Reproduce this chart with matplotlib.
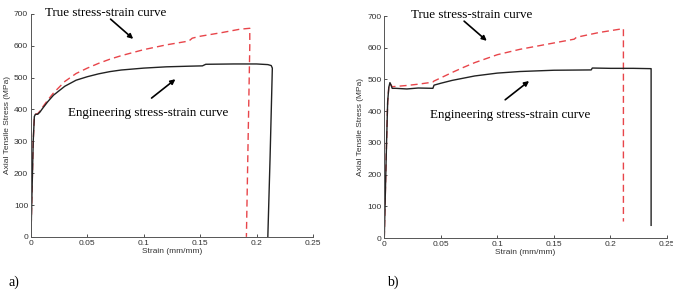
import matplotlib.pyplot as plt

# 数据 (a)
eng_a_x = [0, 0.001, 0.002, 0.003, 0.004, 0.006, 0.008, 0.01, 0.015, 0.02, 0.03, 0.04, 0.05,
           0.06, 0.07, 0.08, 0.1, 0.12, 0.14, 0.152, 0.155, 0.18, 0.2, 0.21, 0.213, 0.214, 0.212, 0.21]
eng_a_y = [0, 150, 300, 378, 385, 385, 392, 402, 425, 445, 473, 492, 503,
           512, 519, 524, 530, 534, 536, 537, 542, 543, 543, 541, 538, 530, 250, 0]
true_a_x = [0, 0.001, 0.002, 0.003, 0.004, 0.006, 0.008, 0.01, 0.015, 0.02, 0.03, 0.04, 0.05,
            0.06, 0.07, 0.08, 0.1, 0.12, 0.14, 0.143, 0.15, 0.17, 0.185, 0.194, 0.194, 0.191]
true_a_y = [0, 150, 300, 378, 385, 387, 395, 406, 430, 452, 488, 513, 530,
            545, 558, 569, 588, 603, 615, 624, 630, 642, 652, 655, 600, 0]

# 数据 (b)
eng_b_x = [0, 0.001, 0.002, 0.003, 0.004, 0.005, 0.006, 0.007, 0.01, 0.02, 0.03, 0.043, 0.044,
           0.05, 0.06, 0.07, 0.08, 0.1, 0.12, 0.15, 0.183, 0.184, 0.2, 0.22, 0.236, 0.236]
eng_b_y = [0, 150, 300, 430, 475, 490, 482, 472, 472, 470, 473, 472, 482,
           488, 497, 504, 511, 520, 525, 529, 530, 536, 535, 535, 534, 40]
true_b_x = [0, 0.001, 0.002, 0.003, 0.004, 0.005, 0.006, 0.007, 0.01, 0.02, 0.03, 0.04, 0.043,
            0.044, 0.05, 0.06, 0.07, 0.08, 0.1, 0.12, 0.15, 0.168, 0.17, 0.19, 0.211, 0.2115, 0.2115]
true_b_y = [0, 150, 300, 430, 476, 488, 482, 477, 478, 481, 485, 490, 492,
            495, 505, 522, 538, 553, 578, 595, 615, 627, 633, 648, 660, 660, 52]

panels = [
    dict(eng=(eng_a_x, eng_a_y), true=(true_a_x, true_a_y), label='a)',
         rect=[0.046, 0.186, 0.419, 0.766]),
    dict(eng=(eng_b_x, eng_b_y), true=(true_b_x, true_b_y), label='b)',
         rect=[0.571, 0.182, 0.420, 0.763]),
]

fig = plt.figure(figsize=(6.73, 2.91), dpi=100)
serif = ['Liberation Serif', 'DejaVu Serif']
sans = ['Liberation Sans', 'DejaVu Sans']

for i, p in enumerate(panels):
    ax = fig.add_axes(p['rect'])
    ax.plot(*p['true'], color='#e8454a', ls=(0, (5, 3)), lw=1.0)
    ax.plot(*p['eng'], color='#222222', lw=1.0)
    ax.set_xlim(0, 0.25)
    ax.set_ylim(0, 700)
    ax.set_xticks([0, 0.05, 0.1, 0.15, 0.2, 0.25])
    ax.set_xticklabels(['0', '0.05', '0.1', '0.15', '0.2', '0.25'])
    ax.set_yticks(range(0, 701, 100))
    ax.spines['top'].set_visible(False)
    ax.spines['right'].set_visible(False)
    for s in ('left', 'bottom'):
        ax.spines[s].set_color('#555555')
        ax.spines[s].set_linewidth(0.7)
    ax.tick_params(direction='in', length=2.5, width=0.6, labelsize=6,
                   colors='#333333', pad=2)
    for t in ax.get_xticklabels() + ax.get_yticklabels():
        t.set_family(sans)
    ax.set_xlabel('Strain (mm/mm)', fontsize=6, family=sans, labelpad=1, color='#333333')
    ax.set_ylabel('Axial Tensile Stress (MPa)', fontsize=6, family=sans, labelpad=2,
                  color='#333333')

    ax.text(0.05 * (1 - i) + 0.095 * i, 1.005, 'True stress-strain curve', transform=ax.transAxes,
            fontsize=9.4, family=serif, va='center', ha='left')
    ax.text(0.13 * (1 - i) + 0.16 * i, 0.555, 'Engineering stress-strain curve', transform=ax.transAxes,
            fontsize=9.4, family=serif, va='center', ha='left')
    ax.annotate('', xy=(0.37, 0.88), xytext=(0.275, 0.985), xycoords='axes fraction',
                arrowprops=dict(arrowstyle='-|>', color='black', lw=1.2, mutation_scale=7))
    ax.annotate('', xy=(0.52, 0.715), xytext=(0.42, 0.615), xycoords='axes fraction',
                arrowprops=dict(arrowstyle='-|>', color='black', lw=1.2, mutation_scale=7))

fig.text(0.012, 0.03, 'a)', fontsize=10, family=serif, va='center')
fig.text(0.575, 0.03, 'b)', fontsize=10, family=serif, va='center')

plt.savefig('out.png', dpi=100)
